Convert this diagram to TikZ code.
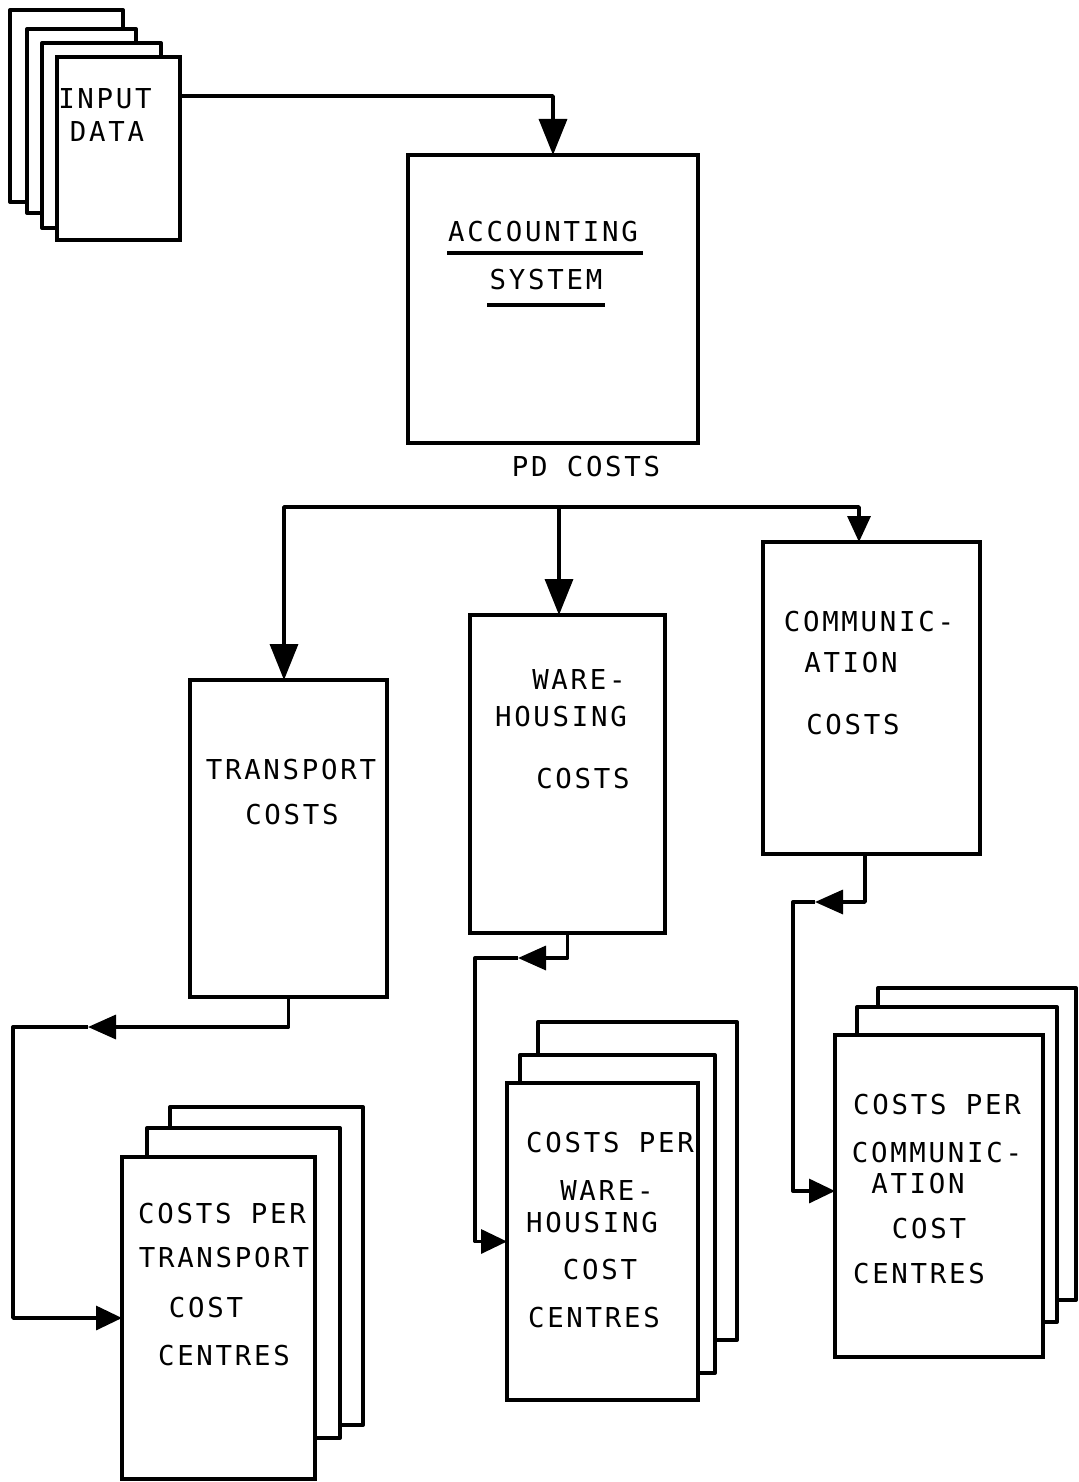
\documentclass[tikz,border=0pt]{standalone}
\usepackage{fontspec}
\setmonofont{DejaVu Sans Mono}[LetterSpace=10]
\usetikzlibrary{arrows.meta,fit,calc}

\begin{document}
\begin{tikzpicture}[x=0.5pt,y=-0.5pt,
  box/.style={draw,line width=2pt,fill=white,rectangle,inner sep=0pt,outer sep=0pt},
  sheet/.style={draw,line width=2pt,fill=white,line join=round},
  conn/.style={line width=1.7pt,line join=round},
  bigtip/.style={-{Triangle[length=18pt,width=14pt]}},
  comtip/.style={-{Triangle[length=13pt,width=11.5pt]}},
  midtip/.style={-{Triangle[length=14pt,width=12pt]}},
  endtip/.style={-{Triangle[length=13pt,width=12pt]}},
  lbl/.style={font=\ttfamily\fontsize{13.7}{15}\selectfont,inner sep=0pt},
  uline/.style={line width=1.6pt},
]
\useasboundingbox (0,0) rectangle (1079,1482);
\fill[white] (0,0) rectangle (1079,1482);

% ---- input data stack ----
\draw[sheet] (10,10) rectangle (123,202);
\draw[sheet] (27,29) rectangle (136,213);
\draw[sheet] (42,43) rectangle (161,228);
\node[box,fit={(57,57)(180,240)}] (inp) {};
\node[lbl] (inpA) at (105,99) {INPUT};
\node[lbl] (inpB) at (107,132) {DATA};

% ---- accounting system ----
\node[box,fit={(408,155)(698,443)}] (acc) {};
\node[lbl] (accA) at (543,232) {ACCOUNTING};
\node[lbl] (accB) at (546,280) {SYSTEM};
\draw[uline] (447,253) -- (643,253);
\draw[uline] (487,305) -- (605,305);
\node[lbl] (pd) at (586,467) {PD COSTS};

% ---- cost category boxes ----
\node[box,fit={(190,680)(387,997)}] (trn) {};
\node[lbl] (trnA) at (291,770) {TRANSPORT};
\node[lbl] (trnB) at (292,815) {COSTS};

\node[box,fit={(470,615)(665,933)}] (whs) {};
\node[lbl] (whsA) at (579,680) {WARE-};
\node[lbl] (whsB) at (561,717) {HOUSING};
\node[lbl] (whsC) at (583,779) {COSTS};

\node[box,fit={(763,542)(980,854)}] (com) {};
\node[lbl] (comA) at (869,622) {COMMUNIC-};
\node[lbl] (comB) at (851,663) {ATION};
\node[lbl] (comC) at (853,725) {COSTS};

% ---- cost centre stacks ----
\draw[sheet] (170,1107) rectangle (363,1425);
\draw[sheet] (147,1128) rectangle (340,1438);
\node[box,fit={(122,1157)(315,1479)}] (trnc) {};
\node[lbl] (trncA) at (222,1214) {COSTS PER};
\node[lbl] (trncB) at (224,1258) {TRANSPORT};
\node[lbl] (trncC) at (206,1308) {COST};
\node[lbl] (trncD) at (224,1356) {CENTRES};

\draw[sheet] (538,1022) rectangle (737,1340);
\draw[sheet] (520,1055) rectangle (715,1373);
\node[box,fit={(507,1083)(698,1400)}] (whsc) {};
\node[lbl] (whscA) at (610,1143) {COSTS PER};
\node[lbl] (whscB) at (607,1190) {WARE-};
\node[lbl] (whscC) at (592,1223) {HOUSING};
\node[lbl] (whscD) at (600,1270) {COST};
\node[lbl] (whscE) at (594,1318) {CENTRES};

\draw[sheet] (878,988) rectangle (1076,1300);
\draw[sheet] (857,1007) rectangle (1057,1322);
\node[box,fit={(835,1035)(1043,1357)}] (comc) {};
\node[lbl] (comcA) at (937,1105) {COSTS PER};
\node[lbl] (comcB) at (937,1153) {COMMUNIC-};
\node[lbl] (comcC) at (918,1184) {ATION};
\node[lbl] (comcD) at (929,1229) {COST};
\node[lbl] (comcE) at (919,1274) {CENTRES};

% ---- input -> accounting ----
\coordinate (inRow) at (0,96);
\draw[conn,bigtip] (inp.east |- inRow) -| (acc.north);

% ---- distribution of PD costs ----
\coordinate (busT) at (284,507);
\coordinate (busW) at (559,507);
\coordinate (busC) at (859,507);
\draw[conn,bigtip] (busW) -- (busT) -- (busT |- trn.north);
\draw[conn,bigtip] (busW) -- (busW |- whs.north);
\draw[conn,comtip] (busW) -- (busC) -- (busC |- com.north);

% ---- transport -> cost centres ----
\coordinate (tTip) at (88,1027);
\coordinate (tLeft) at (13,1027);
\draw[conn,midtip] (trn.south) |- (tTip);
\draw[conn,endtip] (tTip) -- (tLeft) |- (trnc.west);

% ---- warehousing -> cost centres ----
\coordinate (wTip) at (518,958);
\coordinate (wLeft) at (475,958);
\draw[conn,midtip] (whs.south) |- (wTip);
\draw[conn,endtip] (wTip) -- (wLeft) |- (whsc.west);

% ---- communication -> cost centres ----
\coordinate (cTip) at (815,902);
\coordinate (cLeft) at (793,902);
\coordinate (cEntry) at (0,1191);
\draw[conn,midtip] ($(com.south west)!0.47!(com.south east)$) |- (cTip);
\draw[conn,endtip] (cTip) -- (cLeft) |- (comc.west |- cEntry);
\end{tikzpicture}
\end{document}
